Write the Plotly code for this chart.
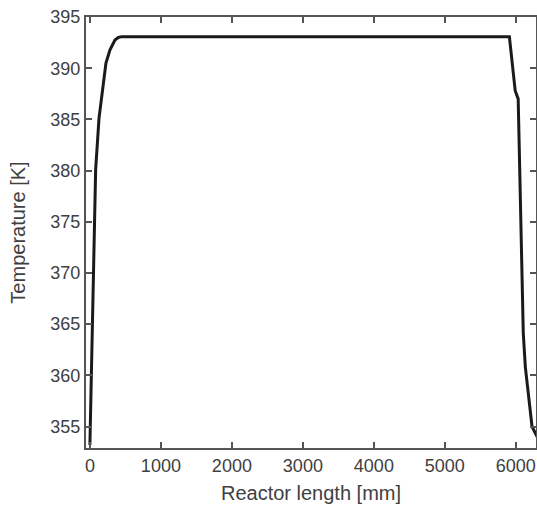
import plotly.graph_objects as go

reactor_length_mm = [0, 15, 48, 81, 128, 180, 226, 283, 353, 400, 447, 5909, 5991, 6033, 6053,
                     6096, 6105, 6134, 6180, 6228, 6300]
temperature_K = [353.2, 358.3, 368.0, 380.1, 385.1, 388.3, 390.5, 391.8, 392.75, 393.0, 393.08,
                 393.08, 387.8, 387.0, 380.1, 366.4, 364.1, 360.8, 357.6, 355.0, 354.0]

x_ticks = [0, 1000, 2000, 3000, 4000, 5000, 6000]
y_ticks = [355, 360, 365, 370, 375, 380, 385, 390, 395]

axis_color = "#555555"
text_color = "#404040"

fig = go.Figure()
fig.add_trace(go.Scatter(x=reactor_length_mm, y=temperature_K, mode="lines",
                         line=dict(color="#1a1a1a", width=3), showlegend=False))

fig.update_layout(
    width=537, height=506,
    margin=dict(l=86, r=1, t=17, b=58),
    paper_bgcolor="white", plot_bgcolor="white",
    font=dict(family="Liberation Sans, Arial, sans-serif", size=18, color=text_color),
)
fig.update_xaxes(
    range=[-55, 6284], tickvals=x_ticks, ticks="inside", ticklen=6, tickwidth=1.5,
    tickcolor=axis_color, showline=True, linecolor=axis_color, linewidth=2, mirror="ticks",
    showgrid=False, zeroline=False, automargin=False,
    title=dict(text="Reactor length [mm]", font=dict(size=20, color=text_color), standoff=11),
)
fig.update_yaxes(
    range=[352.9, 395], tickvals=y_ticks, ticks="inside", ticklen=6, tickwidth=1.5,
    tickcolor=axis_color, showline=True, linecolor=axis_color, linewidth=2, mirror="ticks",
    showgrid=False, zeroline=False, automargin=False,
    title=dict(text="Temperature [K]", font=dict(size=20, color=text_color), standoff=19),
)

fig.write_html(
    "out.html",
    config={"displayModeBar": False},
    post_script="document.body.style.margin='0';document.body.style.overflow='hidden';",
)
